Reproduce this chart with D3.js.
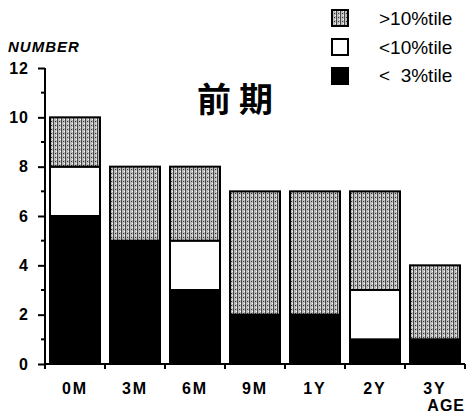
<!DOCTYPE html>
<html>
<head>
<meta charset="utf-8">
<script src="https://cdn.jsdelivr.net/npm/d3@7"></script>
<style>
  body { margin: 0; background: #fff; }
  text { font-family: "Liberation Sans", Arial, sans-serif; font-weight: bold; fill: #000; }
</style>
</head>
<body>
<div id="chart"></div>
<script>
// data
var ages = ['0M', '3M', '6M', '9M', '1Y', '2Y', '3Y'];
var below3 = [6, 5, 3, 2, 2, 1, 1];
var below10 = [2, 0, 2, 0, 0, 2, 0];
var above10 = [2, 3, 3, 5, 5, 4, 3];
var yTicks = [0, 2, 4, 6, 8, 10, 12];
var legendLabels = ['>10%tile', '<10%tile', '<  3%tile'];

var svgWidth = 469, svgHeight = 417;
var margin = { top: 68, right: 4, bottom: 53, left: 45 };
var chartWidth = svgWidth - margin.left - margin.right;
var chartHeight = svgHeight - margin.top - margin.bottom;

var svg = d3.select('#chart').append('svg')
    .attr('width', svgWidth)
    .attr('height', svgHeight);

// stipple pattern for the grey part
var defs = svg.append('defs');
var pat = defs.append('pattern')
    .attr('id', 'stip')
    .attr('patternUnits', 'userSpaceOnUse')
    .attr('width', 4).attr('height', 4);
pat.append('rect').attr('width', 4).attr('height', 4).attr('fill', '#bdbdbd');
pat.append('rect').attr('x', 0).attr('y', 0).attr('width', 1).attr('height', 4).attr('fill', '#444');
pat.append('rect').attr('x', 2).attr('y', 1).attr('width', 1).attr('height', 1).attr('fill', '#333');
pat.append('rect').attr('x', 3).attr('y', 3).attr('width', 1).attr('height', 1).attr('fill', '#fff');

var chartGroup = svg.append('g')
    .attr('transform', `translate(${margin.left}, ${margin.top})`);

var xscale = d3.scaleBand()
    .domain(ages)
    .range([0, chartWidth])
    .paddingInner(1 / 6)
    .paddingOuter(1 / 12);

var yscale = d3.scaleLinear()
    .domain([0, 12])
    .range([chartHeight, 0]);

var table = ages.map(function (a, i) {
    return { age: a, below3: below3[i], below10: below10[i], above10: above10[i] };
});
var stack = d3.stack().keys(['below3', 'below10', 'above10'])(table);
var fills = { below3: '#000', below10: '#fff', above10: 'url(#stip)' };

stack.forEach(function (layer) {
    chartGroup.selectAll('.bar-' + layer.key)
        .data(layer.filter(d => d[1] > d[0]))
        .enter()
        .append('rect')
        .attr('x', d => xscale(d.data.age))
        .attr('y', d => yscale(d[1]))
        .attr('width', xscale.bandwidth())
        .attr('height', d => yscale(d[0]) - yscale(d[1]))
        .attr('fill', fills[layer.key])
        .attr('stroke', '#000')
        .attr('stroke-width', 2);
});

// y axis
var leftaxis = d3.axisLeft(yscale).tickValues(yTicks).tickSize(7).tickPadding(9).tickFormat(d3.format('d'));
var yAxis = chartGroup.append('g').call(leftaxis);
yAxis.select('.domain').attr('stroke-width', 2).attr('d', `M0,0V${chartHeight}`);
yAxis.selectAll('.tick line').attr('stroke-width', 2);
yAxis.selectAll('.tick text').style('font-size', '16px').style('letter-spacing', '1px');

// minor ticks at odd numbers
chartGroup.selectAll('.minor')
    .data([1, 3, 5, 7, 9, 11])
    .enter()
    .append('line')
    .attr('x1', -4).attr('x2', 0)
    .attr('y1', d => yscale(d)).attr('y2', d => yscale(d))
    .attr('stroke', '#000').attr('stroke-width', 2);

// x axis
chartGroup.append('line')
    .attr('x1', 0).attr('x2', chartWidth)
    .attr('y1', chartHeight).attr('y2', chartHeight)
    .attr('stroke', '#000').attr('stroke-width', 2);

var bounds = ages.map(a => xscale(a) - xscale.step() * xscale.paddingInner() / 2).concat([chartWidth]);
chartGroup.selectAll('.xtick')
    .data(bounds)
    .enter()
    .append('line')
    .attr('x1', d => d).attr('x2', d => d)
    .attr('y1', chartHeight).attr('y2', chartHeight + 5)
    .attr('stroke', '#000').attr('stroke-width', 2);

chartGroup.selectAll('.xlab')
    .data(ages)
    .enter()
    .append('text')
    .attr('x', d => xscale(d) + xscale.bandwidth() / 2)
    .attr('y', chartHeight + 30)
    .attr('text-anchor', 'middle')
    .style('font-size', '16px')
    .style('letter-spacing', '2px')
    .text(d => d);

chartGroup.append('text')
    .attr('x', chartWidth)
    .attr('y', chartHeight + 47)
    .attr('text-anchor', 'end')
    .style('font-size', '16px')
    .style('letter-spacing', '1px')
    .text('AGE');

svg.append('text')
    .attr('x', 8)
    .attr('y', 52)
    .style('font-size', '15px')
    .style('font-style', 'italic')
    .style('letter-spacing', '1px')
    .text('NUMBER');

// title
svg.append('text')
    .attr('x', 197)
    .attr('y', 112)
    .style('font-family', '"Noto Sans CJK JP", sans-serif')
    .style('font-size', '34px')
    .style('letter-spacing', '8px')
    .text('前期');

// legend
var legendFills = ['url(#stip)', '#fff', '#000'];
var legend = svg.append('g');
legend.selectAll('rect')
    .data(legendLabels)
    .enter()
    .append('rect')
    .attr('x', 332)
    .attr('y', (d, i) => 10 + i * 29)
    .attr('width', 16).attr('height', 16)
    .attr('fill', (d, i) => legendFills[i])
    .attr('stroke', '#000').attr('stroke-width', 2);

legend.selectAll('text')
    .data(legendLabels)
    .enter()
    .append('text')
    .attr('x', 379)
    .attr('y', (d, i) => 25 + i * 28.5)
    .style('font-size', '19px')
    .style('font-weight', 'normal')
    .attr('xml:space', 'preserve')
    .text(d => d);
</script>
</body>
</html>
